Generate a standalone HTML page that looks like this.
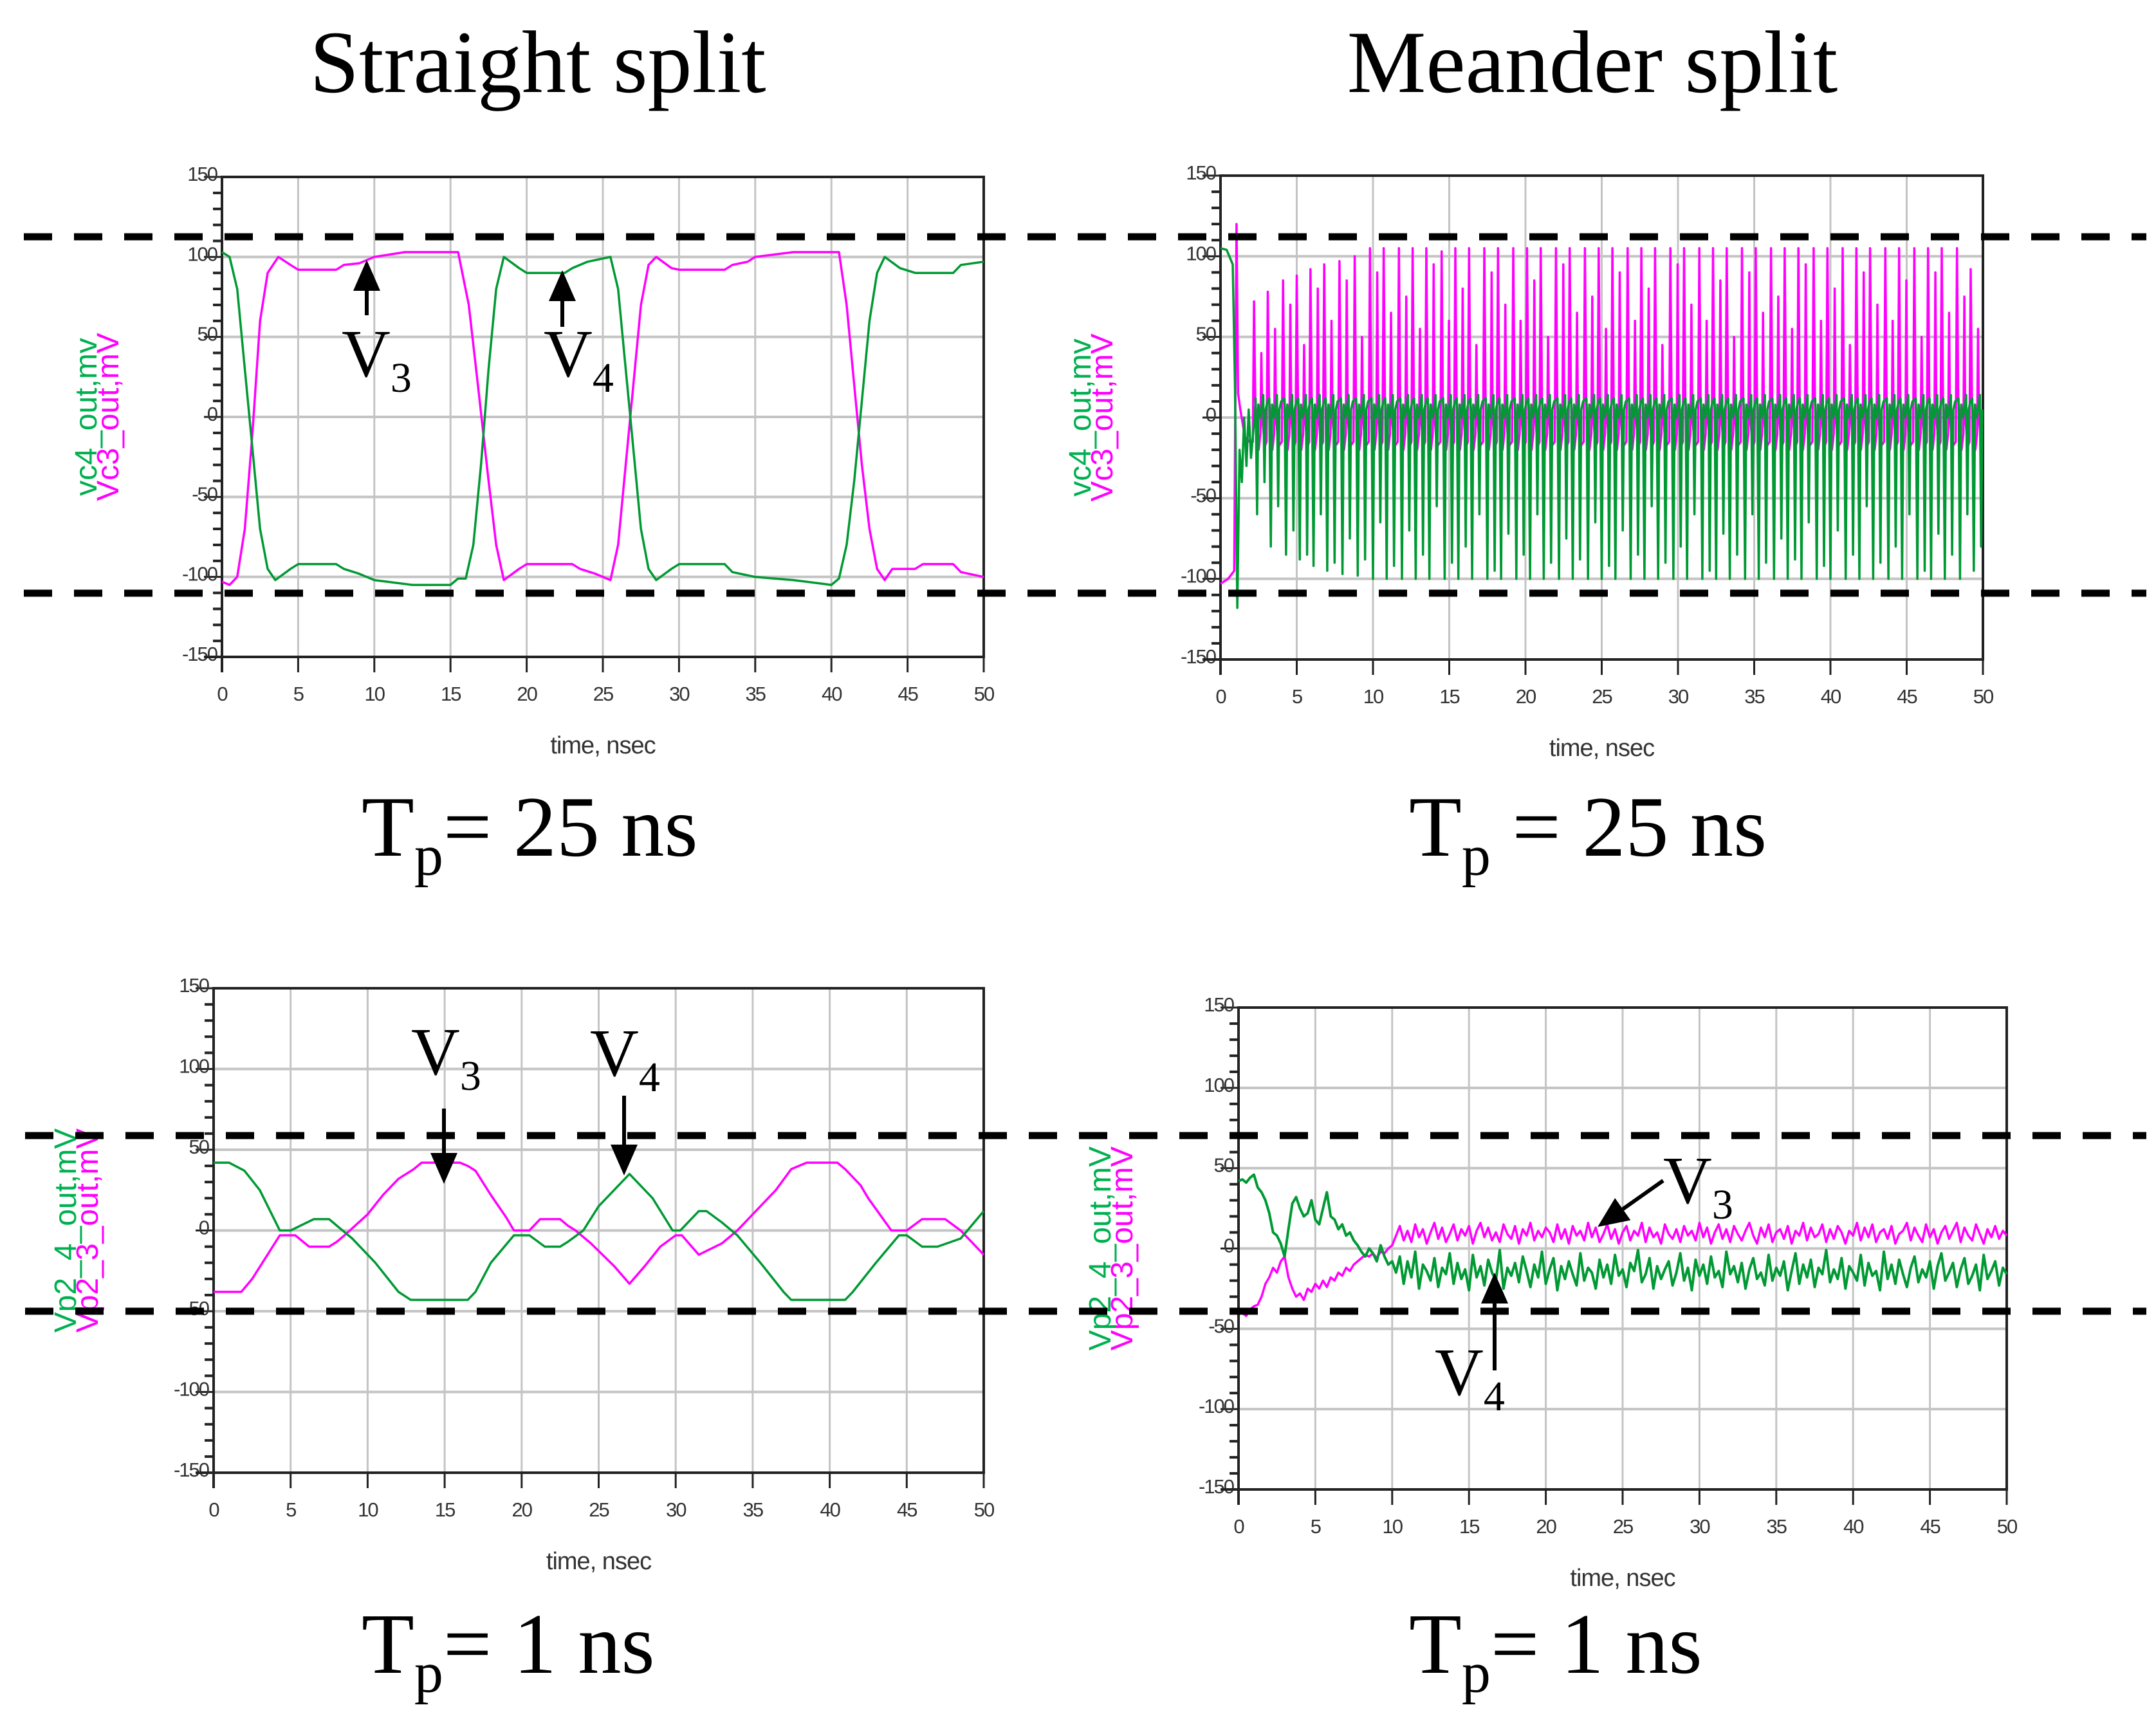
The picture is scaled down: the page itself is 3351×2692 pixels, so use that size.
<!DOCTYPE html>
<html><head><meta charset="utf-8"><style>
html,body{margin:0;padding:0;background:#fff;}
svg{display:block;}
.t{font-family:"Liberation Serif",serif;fill:#000;}
.tk{font-family:"Liberation Sans",sans-serif;font-size:31px;fill:#333;letter-spacing:-2px;}
.ax{font-family:"Liberation Sans",sans-serif;font-size:38px;fill:#333;letter-spacing:-1px;}
.yl{font-family:"Liberation Sans",sans-serif;font-size:48px;}
</style></head><body>
<svg id="fig" width="3351" height="2692" viewBox="0 0 3351 2692" xmlns="http://www.w3.org/2000/svg">
<rect width="3351" height="2692" fill="#fff"/>
<text class="t" x="836" y="143" font-size="138" text-anchor="middle">Straight split</text>
<text class="t" x="2475" y="143" font-size="138" text-anchor="middle">Meander split</text>
<text class="t" x="562" y="1330" font-size="134">T<tspan font-size="90" dy="30">p</tspan><tspan dy="-30">= 25 ns</tspan></text>
<text class="t" x="2190" y="1330" font-size="134">T<tspan font-size="90" dy="30">p</tspan><tspan dy="-30"> = 25 ns</tspan></text>
<text class="t" x="562" y="2600" font-size="134">T<tspan font-size="90" dy="30">p</tspan><tspan dy="-30">= 1 ns</tspan></text>
<text class="t" x="2190" y="2600" font-size="134">T<tspan font-size="90" dy="30">p</tspan><tspan dy="-30">= 1 ns</tspan></text>
<g id="charts"></g>
<g id="overlay"></g>
</svg>
<script>
// ---- data: top-left (straight, Tp=25ns)
const tlT3 = [0,0.5,1,1.5,2,2.5,3,3.7,4.5,5,7.5,8,9,10,12,15.5,16.2,16.8,17.5,18,18.5,19.5,20,23,23.5,24.5,25.5,26,26.5,27,27.5,28,28.5,29.5,30,33,33.5,34.5,35,37.5,40.5,41,41.5,42,42.5,43,43.5,44,45.5,46,48,48.5,50];
const tlV3 = [-103,-105,-100,-70,-10,60,90,100,95,92,92,95,96,100,103,103,70,20,-40,-80,-102,-95,-92,-92,-95,-98,-102,-80,-30,20,70,95,100,93,92,92,95,97,100,103,103,70,20,-30,-70,-95,-102,-95,-95,-92,-92,-97,-100];
const tlT4 = [0,0.5,1,1.5,2,2.5,3,3.5,4.5,5,7.5,8,9,10,12.5,15,15.5,16,16.5,17,17.5,18,18.5,19.5,20,22.5,23,24,25.5,26,26.5,27,27.5,28,28.5,29.5,30,33,33.5,35,37.5,40,40.5,41,41.5,42,42.5,43,43.5,44.5,45.5,48,48.5,50];
const tlV4 = [103,100,80,30,-20,-70,-95,-102,-95,-92,-92,-95,-98,-102,-105,-105,-101,-101,-80,-30,30,80,100,93,90,90,93,97,100,80,30,-20,-70,-95,-102,-95,-92,-92,-97,-100,-102,-105,-101,-80,-40,10,60,90,100,93,90,90,95,97];
// ---- top-right (meander, Tp=25ns)
const trTimes = [2.2,3.1,4.1,5.0,5.9,6.8,7.8,8.8,9.8,10.7,11.7,12.6,13.5,14.5,15.4,16.3,17.3,18.2,19.2,20.1,21.0,22.0,22.9,23.9,24.8,25.7,26.7,27.6,28.5,29.5,30.4,31.4,32.3,33.2,34.2,35.1,36.1,37.0,37.9,38.9,39.8,40.8,41.7,42.6,43.6,44.5,45.5,46.4,47.3,48.3,49.2];
const trPinkPeak = [72,78,85,88,92,95,97,100,105,105,105,105,105,103,105,105,105,105,105,105,105,105,105,105,105,105,105,105,105,105,105,105,105,105,105,105,105,105,105,105,105,105,105,105,105,105,105,105,105,105,92];
const trPinkMid = [40,55,70,45,80,60,85,50,90,65,75,55,95,60,80,45,90,70,60,85,50,95,65,75,55,90,60,80,45,95,70,60,85,50,90,65,75,55,95,60,80,45,90,70,60,85,50,90,65,75,55];
const trGreenTrough = [-60,-80,-85,-88,-92,-95,-97,-98,-100,-100,-100,-100,-100,-100,-100,-100,-100,-100,-100,-100,-100,-100,-100,-100,-100,-100,-100,-100,-100,-100,-100,-100,-100,-100,-100,-100,-100,-100,-100,-100,-100,-100,-100,-100,-100,-100,-100,-100,-100,-100,-95];
const trGreenMid = [-40,-55,-70,-85,-60,-90,-75,-88,-65,-92,-70,-85,-55,-90,-80,-60,-95,-72,-85,-60,-90,-75,-88,-65,-92,-70,-85,-55,-90,-80,-60,-95,-72,-85,-60,-90,-75,-88,-65,-92,-70,-85,-55,-90,-80,-60,-95,-72,-85,-60,-80];
// ---- bottom-left (straight, Tp=1ns)
const blT3 = [0,1.8,2.5,3.5,4.3,5.3,6.2,7.5,8,8.5,10,11,12,13,13.5,16,16.5,17,18,19,19.5,20.5,21.2,22.5,23,23.5,24.5,26,27,28,29,30,30.4,31.5,33,34,35,36.5,37.5,38.5,40.5,41,42,42.5,44,45,46,47.5,48.5,50];
const blV3 = [-38,-38,-30,-15,-3,-3,-10,-10,-7,-3,10,22,32,38,42,42,40,37,22,8,0,0,7,7,3,0,-8,-22,-33,-22,-10,-3,-3,-15,-8,0,10,25,38,42,42,38,28,20,0,0,7,7,0,-15];
const blT4 = [0,1,2,3,4.3,5,6.5,7.5,8,9,10.5,12,12.8,16.5,17,18,19.5,20.5,21.5,22.5,23,24,25,27,28.5,29.8,30.3,31.5,32,33,34,35.5,37,37.5,41,41.5,43,44.5,45,46,47,48.5,50];
const blV4 = [42,42,37,25,0,0,7,7,3,-5,-20,-38,-43,-43,-38,-20,-3,-3,-10,-10,-7,0,15,35,20,0,0,12,12,5,-3,-20,-38,-43,-43,-38,-20,-3,-3,-10,-10,-5,12];
// ---- bottom-right (meander, Tp=1ns): samples every 0.25 ns
const brV4 = [42,43,41,44,46,38,35,30,22,10,8,3,-5,12,28,32,25,20,22,30,18,15,25,35,20,18,12,15,8,10,5,2,-2,-5,0,-3,-8,2,-5,-10,-8,
-15,-5,-22,-8,-18,-2,-25,-10,-14,-20,-6,-24,-12,-16,-3,-22,-9,-19,-13,-26,
-4,-18,-11,-23,-7,-15,-20,-1,-25,-12,-17,-9,-21,-5,-14,-24,-10,-18,-2,-22,
-13,-6,-26,-11,-19,-8,-16,-23,-3,-20,-12,-15,-25,-7,-18,-10,-22,-4,-17,-13,
-24,-9,-14,-1,-21,-16,-6,-25,-11,-19,-13,-8,-23,-15,-3,-20,-12,-26,-7,-17,
-10,-22,-5,-18,-14,-24,-2,-16,-11,-21,-9,-25,-13,-6,-19,-15,-23,-4,-20,-12,
-17,-8,-26,-14,-3,-22,-10,-18,-7,-24,-12,-16,-1,-21,-13,-19,-6,-25,-11,-15,
-20,-4,-23,-9,-17,-14,-26,-2,-19,-10,-22,-7,-16,-24,-12,-5,-21,-13,-18,-8,
-25,-11,-3,-20,-15,-9,-24,-13,-6,-22,-17,-10,-26,-4,-19,-14,-8,-23,-12,-16];
const brV3 = [-40,-40,-42,-38,-36,-35,-30,-22,-18,-12,-15,-8,-5,-18,-25,-30,-28,-32,-25,-27,-22,-25,-20,-24,-18,-20,-15,-17,-12,-14,-10,-8,-6,-4,-5,-3,-6,-2,-3,0,2,
8,14,5,11,4,15,7,12,3,10,16,6,13,4,9,15,5,12,8,14,
3,11,16,7,13,5,10,4,15,9,6,14,3,12,8,16,5,11,7,13,
10,4,15,6,12,3,14,8,11,5,16,7,13,4,9,15,6,12,3,10,
14,5,11,8,16,4,13,7,10,3,15,9,6,12,4,14,8,11,5,16,
7,13,3,10,15,6,12,4,14,9,5,11,16,8,3,13,7,15,4,10,
12,6,14,3,11,8,16,5,13,7,9,15,4,12,6,14,10,3,11,8,
16,5,13,7,15,4,10,12,6,14,3,9,11,16,5,13,8,4,15,7,
12,3,10,14,6,11,16,4,13,8,5,15,9,3,12,7,14,6,11,8];
const xTicks = [0,5,10,15,20,25,30,35,40,45,50];
const yTicks = [150,100,50,0,-50,-100,-150];

const NS = "http://www.w3.org/2000/svg";
const PINK = "#ff00ff", GREEN = "#009933";
function mk(tag, attrs, parent){ const e=document.createElementNS(NS,tag); for(const k in attrs) e.setAttribute(k,attrs[k]); parent.appendChild(e); return e; }

function chart(id, box, gLab, pLab, labX){
  const root = document.getElementById('charts');
  const g = mk('g',{},root);
  
  
  const xs = t => box.L + t/50*(box.R-box.L);
  const ys = v => box.B - (v+150)/300*(box.B-box.T);
  xTicks.forEach(t=>{ if(t>0&&t<50){ const l=mk('line',{x1:xs(t),x2:xs(t),y1:box.T,y2:box.B,stroke:'#c4c4c4','stroke-width':3},g);
      }});
  yTicks.forEach(v=>{ if(v>-150&&v<150){ const l=mk('line',{x1:box.L,x2:box.R,y1:ys(v),y2:ys(v),stroke:'#c4c4c4','stroke-width':4},g);
      }});
  for(let v=-150; v<=150; v+=10){ const major=(v%50===0);
    const l=mk('line',{x1:box.L-(major?28:14),x2:box.L,y1:ys(v),y2:ys(v),stroke:'#222','stroke-width':major?3:4},g);
      }
  xTicks.forEach(t=>{ const l=mk('line',{x1:xs(t),x2:xs(t),y1:box.B,y2:box.B+24,stroke:'#222','stroke-width':3},g);
     
    const tx=mk('text',{x:xs(t),y:box.B+68,'text-anchor':'middle',class:'tk'},g); tx.textContent=t;
      });
  yTicks.forEach(v=>{ const tx=mk('text',{x:box.L-8,y:ys(v)+6,'text-anchor':'end',class:'tk'},g); tx.textContent=v;
      });
  const fr=mk('path',{d:`M${box.L-28},${box.B}H${box.R}V${box.T}H${box.L}V${box.B+24}`,fill:'none',stroke:'#222','stroke-width':4},g);
   
  const at=mk('text',{x:(box.L+box.R)/2,y:box.B+150,'text-anchor':'middle',class:'ax'},g); at.textContent='time, nsec';
   
  const cy=(box.T+box.B)/2;
  const y1=mk('text',{x:labX,y:cy,'text-anchor':'middle',class:'yl',fill:'#00b050',transform:`rotate(-90 ${labX} ${cy})`},g); y1.textContent=gLab;
   
  const y2=mk('text',{x:labX+34,y:cy,'text-anchor':'middle',class:'yl',fill:PINK,transform:`rotate(-90 ${labX+34} ${cy})`},g); y2.textContent=pLab;
   
  return {g,xs,ys};
}
function line(c, ts, vs, color, name, w){
  const d = ts.map((t,i)=>(i?'L':'M')+c.xs(t).toFixed(1)+','+c.ys(vs[i]).toFixed(1)).join('');
  const p = mk('path',{d, fill:'none', stroke:color, 'stroke-width':w||3.5, 'stroke-linejoin':'round'}, c.g);
  
  
}

const c1 = chart('chart-straight-25ns',{L:345,R:1529,T:275,B:1021},'vc4_out,mv','Vc3_out,mV',150);
line(c1, tlT3, tlV3, PINK, 'series-v3');
line(c1, tlT4, tlV4, GREEN, 'series-v4');

const c2 = chart('chart-meander-25ns',{L:1897,R:3082,T:273,B:1025},'vc4_out,mv','Vc3_out,mV',1695);
{
  const pt=[0,0.5,0.9,1.05,1.15,1.3,1.6,1.9], pv=[-103,-100,-95,120,15,5,-12,-15];
  const gt=[0,0.4,0.8,0.95,1.1,1.25,1.4,1.55,1.7,1.85,2.0,2.3], gv=[105,104,95,20,-118,-20,-40,0,-30,5,-25,8];
  trTimes.forEach((t,i)=>{
    pt.push(t-0.08,t,t+0.08,t+0.3,t+0.42,t+0.48,t+0.54,t+0.7);
    pv.push(-15,trPinkPeak[i],12,-20,-10,trPinkMid[i],0,-18);
    gt.push(t+0.1,t+0.2,t+0.28,t+0.4,t+0.6,t+0.68,t+0.76,t+0.88);
    gv.push(12,trGreenTrough[i],8,0,14,trGreenMid[i],5,10);
  });
  const pt2=[],pv2=[],gt2=[],gv2=[];
  pt.forEach((t,i)=>{ if(t<=50){pt2.push(t);pv2.push(pv[i]);} });
  gt.forEach((t,i)=>{ if(t<=50){gt2.push(t);gv2.push(gv[i]);} });
  line(c2, pt2, pv2, PINK, 'series-v3', 3.5);
  line(c2, gt2, gv2, GREEN, 'series-v4', 3.5);
}

const c3 = chart('chart-straight-1ns',{L:332,R:1529,T:1536,B:2289},'Vp2_4_out,mV','Vp2_3_out,mV',118);
line(c3, blT3, blV3, PINK, 'series-v3');
line(c3, blT4, blV4, GREEN, 'series-v4');

const c4 = chart('chart-meander-1ns',{L:1925,R:3119,T:1566,B:2315},'Vp2_4_out,mV','Vp2_3_out,mV',1726);
line(c4, brV3.map((v,i)=>i*0.25), brV3, PINK, 'series-v3', 3.5);
line(c4, brV4.map((v,i)=>i*0.25), brV4, GREEN, 'series-v4', 4);

const ov = document.getElementById('overlay');
[[37,3336,368],[37,3336,922],[39,3336,1765],[39,3336,2038]].forEach(a=>{
  const l=mk('line',{x1:a[0],x2:a[1],y1:a[2],y2:a[2],stroke:'#000','stroke-width':11,'stroke-dasharray':'44 34'},ov);
   
});
function arrow(x1,y1,x2,y2){
  const dx=x2-x1, dy=y2-y1, L=Math.hypot(dx,dy), ux=dx/L, uy=dy/L, hl=48, hw=21;
  const bx=x2-ux*hl, by=y2-uy*hl;
  const s=mk('line',{x1,y1,x2:bx,y2:by,stroke:'#000','stroke-width':6},ov);
   
  const h=mk('polygon',{points:`${x2},${y2} ${bx-uy*hw},${by+ux*hw} ${bx+uy*hw},${by-ux*hw}`,fill:'#000'},ov);
   
}
function vlabel(x,y,sub,name){
  const t=mk('text',{x,y,class:'t','font-size':105},ov);
  t.innerHTML=`V<tspan font-size="66" dy="24">${sub}</tspan>`;
   
}
arrow(570,490,570,404); vlabel(531,585,'3','label-v3-tl');
arrow(874,508,874,420); vlabel(845,585,'4','label-v4-tl');
arrow(690,1723,690,1840); vlabel(639,1670,'3','label-v3-bl');
arrow(970,1703,970,1827); vlabel(917,1672,'4','label-v4-bl');
arrow(2585,1835,2483,1907); vlabel(2585,1870,'3','label-v3-br');
arrow(2323,2130,2323,1978); vlabel(2230,2168,'4','label-v4-br');
</script>
</body></html>
